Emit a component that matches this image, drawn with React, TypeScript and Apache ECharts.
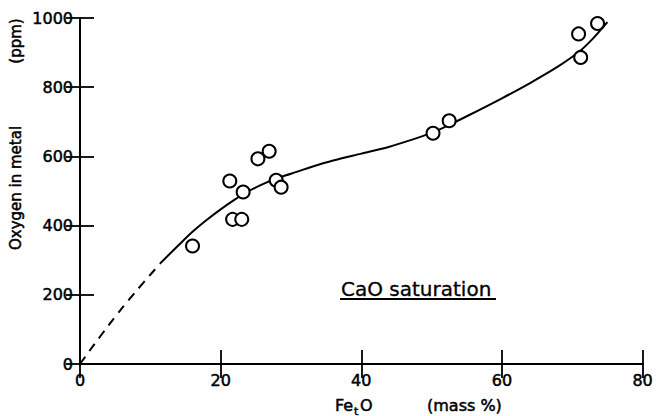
import React, { useEffect, useRef } from "react";
import * as echarts from "echarts";

// Measured points: FetO (mass%) vs oxygen in metal (ppm)
const obsFeO = [16.0, 21.3, 21.7, 23.0, 23.2, 25.3, 26.9, 27.9, 28.6, 50.2, 52.5, 70.9, 71.2, 73.6];
const obsOxygen = [341, 529, 418, 418, 497, 593, 615, 531, 511, 667, 703, 954, 886, 984];

// Fitted curve (solid part)
const curveFeO = [11.6, 14, 16, 18, 20, 22, 24, 26, 28, 30, 33, 36, 40, 44, 47, 50, 52, 55, 60, 64, 68, 71, 73, 75];
const curveOxygen = [295, 343, 382, 416, 447, 475, 500, 520, 537, 550, 570, 588, 608, 628, 647, 668, 686, 716, 768, 812, 860, 903, 942, 988];

// Extrapolated curve (dashed part)
const dashFeO = [0, 2, 4, 6, 8, 10, 11.6];
const dashOxygen = [0, 56, 110, 162, 211, 258, 295];

const xTicks = [0, 20, 40, 60, 80];
const yTicks = [0, 200, 400, 600, 800, 1000];

const FONT = "DejaVu Sans";
const ink = { fill: "#000", stroke: "#000", lineWidth: 0.5, fontFamily: FONT };

export default function App() {
  const ref = useRef<HTMLDivElement>(null);
  useEffect(() => {
    if (!ref.current) return;
    const chart = echarts.init(ref.current, undefined, { renderer: "svg" });
    const axisLine = { show: true, lineStyle: { color: "#000", width: 2 } };
    const tick = { show: true, inside: true, length: 14, lineStyle: { color: "#000", width: 1.8 } };
    const label = {
      color: "#000",
      fontSize: 16,
      fontFamily: FONT,
      textBorderColor: "#000",
      textBorderWidth: 0.5,
      formatter: (v: number) => String(v),
    };
    chart.setOption({
      animation: false,
      backgroundColor: "#fff",
      grid: { left: 80, right: 13, top: 18, bottom: 52, containLabel: false },
      xAxis: [
        {
          type: "value",
          min: xTicks[0],
          max: xTicks[xTicks.length - 1],
          interval: 20,
          axisLine,
          axisTick: tick,
          splitLine: { show: false },
          axisLabel: { ...label, margin: 8 },
        },
        {
          type: "value",
          position: "top",
          min: 0,
          max: 80,
          interval: 20,
          axisLine,
          axisTick: tick,
          splitLine: { show: false },
          axisLabel: { show: false },
        },
      ],
      yAxis: [
        {
          type: "value",
          min: yTicks[0],
          max: yTicks[yTicks.length - 1],
          interval: 200,
          axisLine,
          axisTick: tick,
          splitLine: { show: false },
          axisLabel: { ...label, margin: 7 },
        },
        {
          type: "value",
          position: "right",
          min: 0,
          max: 1000,
          interval: 200,
          axisLine,
          axisTick: tick,
          splitLine: { show: false },
          axisLabel: { show: false },
        },
      ],
      series: [
        {
          type: "line",
          data: dashFeO.map((x, i) => [x, dashOxygen[i]]),
          smooth: 0.3,
          showSymbol: false,
          lineStyle: { color: "#000", width: 2, type: [9, 7] },
        },
        {
          type: "line",
          data: curveFeO.map((x, i) => [x, curveOxygen[i]]),
          smooth: 0.3,
          showSymbol: false,
          lineStyle: { color: "#000", width: 2 },
        },
        {
          type: "scatter",
          data: obsFeO.map((x, i) => [x, obsOxygen[i]]),
          symbol: "circle",
          symbolSize: 13,
          itemStyle: { color: "#fff", borderColor: "#000", borderWidth: 2, opacity: 1 },
          z: 5,
        },
      ],
      graphic: [
        {
          type: "text",
          x: 16,
          y: 188,
          rotation: Math.PI / 2,
          style: { ...ink, text: "Oxygen in metal", fontSize: 15, align: "center", verticalAlign: "middle" },
        },
        {
          type: "text",
          x: 16,
          y: 41,
          rotation: Math.PI / 2,
          style: { ...ink, text: "(ppm)", fontSize: 15, align: "center", verticalAlign: "middle" },
        },
        {
          type: "text",
          x: 335,
          y: 405,
          style: { ...ink, text: "Fe", fontSize: 16, align: "left", verticalAlign: "middle" },
        },
        {
          type: "text",
          x: 354,
          y: 411,
          style: { ...ink, text: "t", fontSize: 11, align: "left", verticalAlign: "middle" },
        },
        {
          type: "text",
          x: 360,
          y: 405,
          style: { ...ink, text: "O", fontSize: 16, align: "left", verticalAlign: "middle" },
        },
        {
          type: "text",
          x: 427,
          y: 405,
          style: { ...ink, text: "(mass %)", fontSize: 16, align: "left", verticalAlign: "middle" },
        },
        {
          type: "text",
          x: 341,
          y: 289,
          style: { ...ink, lineWidth: 0.3, text: "CaO saturation", fontSize: 20, align: "left", verticalAlign: "middle" },
        },
        {
          type: "line",
          shape: { x1: 340, y1: 299, x2: 496, y2: 299 },
          style: { stroke: "#000", lineWidth: 2 },
        },
      ],
    });
    return () => chart.dispose();
  }, []);
  return <div ref={ref} style={{ width: 656, height: 416, position: "absolute", left: 0, top: 0 }} />;
}
